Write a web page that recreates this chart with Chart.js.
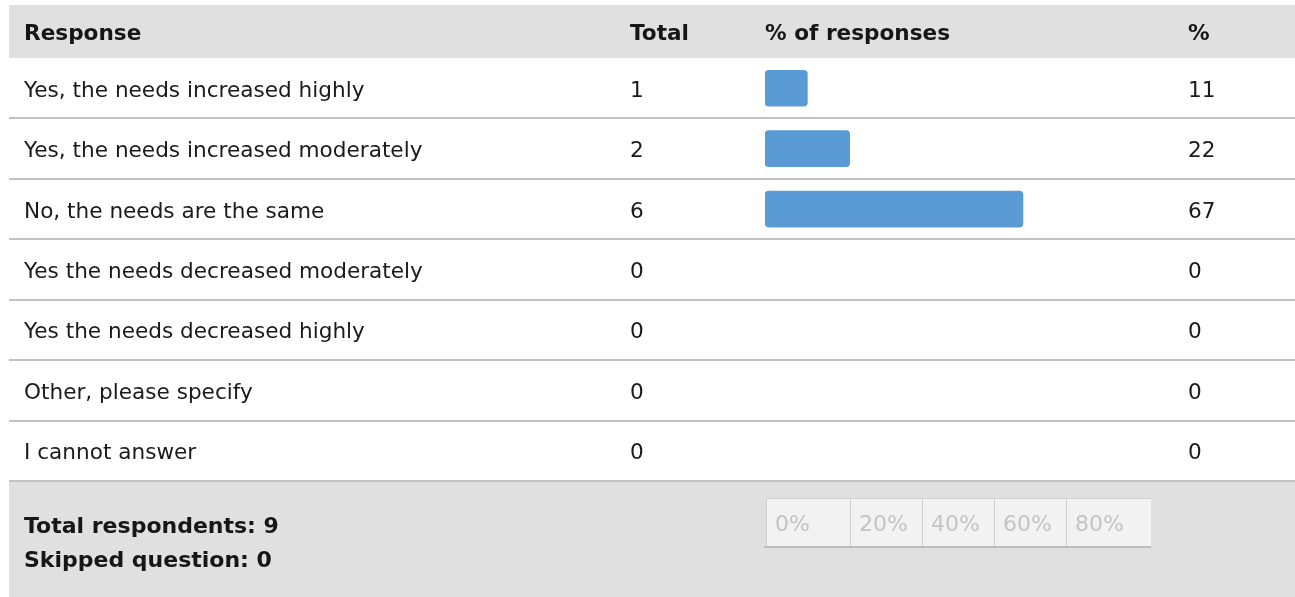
<!DOCTYPE html>
<html>
<head>
<meta charset="utf-8">
<script src="https://cdn.jsdelivr.net/npm/chart.js@4/dist/chart.umd.min.js"></script>
<style>
  html, body { margin: 0; padding: 0; background: #fff; }
  #mychart { display: block; }
</style>
</head>
<body>
<canvas id="mychart" width="1295" height="597"></canvas>
<script>
const responses = [
    'Yes, the needs increased highly',
    'Yes, the needs increased moderately',
    'No, the needs are the same',
    'Yes the needs decreased moderately',
    'Yes the needs decreased highly',
    'Other, please specify',
    'I cannot answer'
];
const totals = [1, 2, 6, 0, 0, 0, 0];
const percents = [11, 22, 67, 0, 0, 0, 0];
const headers = ['Response', 'Total', '% of responses', '%'];
const scaleTicks = ['0%', '20%', '40%', '60%', '80%'];
const totalRespondents = 9;
const skippedQuestion = 0;

// look
const FONT = '"DejaVu Sans", sans-serif';
const textSize = 21.6;
const colX = { response: 24, total: 630, pct: 1188 };
const legendCellWidths = [84, 72, 72, 72, 85];

const tablePlugin = {
    id: 'table',
    beforeDraw(chart) {
        const ctx = chart.ctx;
        const area = chart.chartArea;
        const W = chart.width;
        const rowH = (area.bottom - area.top) / responses.length;
        ctx.save();
        // header + footer backgrounds
        ctx.fillStyle = '#e0e0e0';
        ctx.fillRect(9, 5, W - 9, area.top - 5);
        ctx.fillRect(9, area.bottom, W - 9, chart.height - area.bottom);
        // row separators
        ctx.fillStyle = '#c2c2c2';
        for (let i = 1; i <= responses.length; i++) {
            const y = Math.round(area.top + i * rowH);
            ctx.fillRect(9, y - 1, W - 9, 2);
        }
        ctx.restore();
    },
    afterDraw(chart) {
        const ctx = chart.ctx;
        const area = chart.chartArea;
        const yScale = chart.scales.y;
        const xScale = chart.scales.x;
        ctx.save();
        ctx.textBaseline = 'alphabetic';
        ctx.textAlign = 'left';

        // header
        ctx.fillStyle = '#161616';
        ctx.font = 'bold ' + textSize + 'px ' + FONT;
        const hy = (5 + area.top) / 2 + 8;
        ctx.fillText(headers[0], colX.response, hy);
        ctx.fillText(headers[1], colX.total, hy);
        ctx.fillText(headers[2], area.left, hy);
        ctx.fillText(headers[3], colX.pct, hy);

        // rows
        ctx.font = textSize + 'px ' + FONT;
        ctx.fillStyle = '#1a1a1a';
        responses.forEach((r, i) => {
            const y = yScale.getPixelForValue(i) + 8.5;
            ctx.fillText(r, colX.response, y);
            ctx.fillText(String(totals[i]), colX.total, y);
            ctx.fillText(String(percents[i]), colX.pct, y);
        });

        // footer text
        ctx.font = 'bold 22px ' + FONT;
        ctx.fillStyle = '#161616';
        ctx.fillText('Total respondents: ' + totalRespondents, colX.response, area.bottom + 52);
        ctx.fillText('Skipped question: ' + skippedQuestion, colX.response, area.bottom + 86);

        // footer scale legend
        const top = area.bottom + 17, bot = area.bottom + 66;
        let x = xScale.getPixelForValue(0) + 1;
        ctx.fillStyle = '#f2f2f2';
        const total = legendCellWidths.reduce((a, b) => a + b, 0);
        ctx.fillRect(x, top, total, bot - top);
        ctx.fillStyle = '#cfcfcf';
        ctx.fillRect(x, top, total, 1);
        ctx.font = '22px ' + FONT;
        scaleTicks.forEach((t, i) => {
            ctx.fillStyle = '#cfcfcf';
            ctx.fillRect(x, top, 1, bot - top);
            ctx.fillStyle = '#c3c3c3';
            ctx.fillText(t, x + 9, top + 33);
            x += legendCellWidths[i];
        });
        ctx.fillStyle = '#bdbdbd';
        ctx.fillRect(xScale.getPixelForValue(0) - 1, bot - 1, total + 2, 2);
        ctx.restore();
    }
};

const chart = new Chart(document.getElementById('mychart'), {
    type: 'bar',
    data: {
        labels: responses,
        datasets: [{
            label: '% of responses',
            data: percents,
            // zero rows get no visible bar
            backgroundColor: c => c.raw > 0 ? '#5b9bd5' : 'rgba(0,0,0,0)',
            borderRadius: 4,
            borderSkipped: false,
            barThickness: 36
        }]
    },
    options: {
        indexAxis: 'y',
        responsive: false,
        animation: false,
        layout: { padding: { left: 765, right: 145, top: 58, bottom: 116 } },
        scales: {
            x: { display: false, min: 0, max: 100 },
            y: { display: false }
        },
        plugins: {
            legend: { display: false },
            tooltip: { enabled: false }
        }
    },
    plugins: [tablePlugin]
});
</script>
</body>
</html>
